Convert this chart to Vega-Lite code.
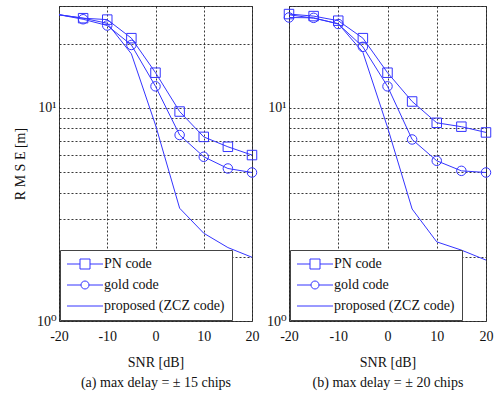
{
  "$schema": "https://vega.github.io/schema/vega-lite/v6.json",
  "background": "white",
  "padding": {"left": 12, "top": 5, "right": 3, "bottom": 5},
  "bounds": "flush",
  "config": {
    "font": "Liberation Serif, DejaVu Serif, serif",
    "view": {"stroke": "#444444", "strokeWidth": 1},
    "axis": {
      "labelFont": "Liberation Serif, DejaVu Serif, serif",
      "labelFontSize": 14,
      "labelColor": "#111111",
      "labelFlush": false,
      "titleFont": "Liberation Serif, DejaVu Serif, serif",
      "titleFontSize": 14,
      "titleFontWeight": "normal",
      "titleColor": "#111111",
      "ticks": false,
      "domain": false,
      "grid": true,
      "gridColor": "#222222",
      "gridDash": [2, 2],
      "gridWidth": 1,
      "gridOpacity": 0.9,
      "labelPadding": 3
    },
    "axisX": {"labelPadding": 8},
    "legend": {
      "orient": "bottom-left",
      "offset": 1,
      "fillColor": "white",
      "strokeColor": "#444444",
      "padding": 7,
      "labelFont": "Liberation Serif, DejaVu Serif, serif",
      "labelFontSize": 14,
      "labelColor": "#111111",
      "symbolSize": 100,
      "rowPadding": 7
    }
  },
  "datasets": {
    "d": [
      {"panel": "a", "series": "PN code", "snr": -20, "rmse": 27.3},
      {"panel": "a", "series": "PN code", "snr": -15, "rmse": 26.3},
      {"panel": "a", "series": "PN code", "snr": -10, "rmse": 25.9},
      {"panel": "a", "series": "PN code", "snr": -5, "rmse": 21.2},
      {"panel": "a", "series": "PN code", "snr": 0, "rmse": 14.6},
      {"panel": "a", "series": "PN code", "snr": 5, "rmse": 9.6},
      {"panel": "a", "series": "PN code", "snr": 10, "rmse": 7.3},
      {"panel": "a", "series": "PN code", "snr": 15, "rmse": 6.56},
      {"panel": "a", "series": "PN code", "snr": 20, "rmse": 6.0},
      {"panel": "a", "series": "gold code", "snr": -20, "rmse": 27.3},
      {"panel": "a", "series": "gold code", "snr": -15, "rmse": 26.0},
      {"panel": "a", "series": "gold code", "snr": -10, "rmse": 24.3},
      {"panel": "a", "series": "gold code", "snr": -5, "rmse": 19.7},
      {"panel": "a", "series": "gold code", "snr": 0, "rmse": 12.6},
      {"panel": "a", "series": "gold code", "snr": 5, "rmse": 7.45},
      {"panel": "a", "series": "gold code", "snr": 10, "rmse": 5.89},
      {"panel": "a", "series": "gold code", "snr": 15, "rmse": 5.19},
      {"panel": "a", "series": "gold code", "snr": 20, "rmse": 4.97},
      {"panel": "a", "series": "proposed (ZCZ code)", "snr": -20, "rmse": 27.3},
      {"panel": "a", "series": "proposed (ZCZ code)", "snr": -15, "rmse": 26.3},
      {"panel": "a", "series": "proposed (ZCZ code)", "snr": -10, "rmse": 24.9},
      {"panel": "a", "series": "proposed (ZCZ code)", "snr": -5, "rmse": 17.9},
      {"panel": "a", "series": "proposed (ZCZ code)", "snr": 0, "rmse": 8.3},
      {"panel": "a", "series": "proposed (ZCZ code)", "snr": 5, "rmse": 3.38},
      {"panel": "a", "series": "proposed (ZCZ code)", "snr": 10, "rmse": 2.58},
      {"panel": "a", "series": "proposed (ZCZ code)", "snr": 15, "rmse": 2.21},
      {"panel": "a", "series": "proposed (ZCZ code)", "snr": 20, "rmse": 1.99},
      {"panel": "b", "series": "PN code", "snr": -20, "rmse": 27.5},
      {"panel": "b", "series": "PN code", "snr": -15, "rmse": 26.9},
      {"panel": "b", "series": "PN code", "snr": -10, "rmse": 25.6},
      {"panel": "b", "series": "PN code", "snr": -5, "rmse": 21.2},
      {"panel": "b", "series": "PN code", "snr": 0, "rmse": 14.6},
      {"panel": "b", "series": "PN code", "snr": 5, "rmse": 10.7},
      {"panel": "b", "series": "PN code", "snr": 10, "rmse": 8.5},
      {"panel": "b", "series": "PN code", "snr": 15, "rmse": 8.15},
      {"panel": "b", "series": "PN code", "snr": 20, "rmse": 7.66},
      {"panel": "b", "series": "gold code", "snr": -20, "rmse": 26.5},
      {"panel": "b", "series": "gold code", "snr": -15, "rmse": 26.4},
      {"panel": "b", "series": "gold code", "snr": -10, "rmse": 24.7},
      {"panel": "b", "series": "gold code", "snr": -5, "rmse": 19.3},
      {"panel": "b", "series": "gold code", "snr": 0, "rmse": 12.6},
      {"panel": "b", "series": "gold code", "snr": 5, "rmse": 7.1},
      {"panel": "b", "series": "gold code", "snr": 10, "rmse": 5.64},
      {"panel": "b", "series": "gold code", "snr": 15, "rmse": 5.06},
      {"panel": "b", "series": "gold code", "snr": 20, "rmse": 4.97},
      {"panel": "b", "series": "proposed (ZCZ code)", "snr": -20, "rmse": 27.3},
      {"panel": "b", "series": "proposed (ZCZ code)", "snr": -15, "rmse": 26.3},
      {"panel": "b", "series": "proposed (ZCZ code)", "snr": -10, "rmse": 24.8},
      {"panel": "b", "series": "proposed (ZCZ code)", "snr": -5, "rmse": 18.2},
      {"panel": "b", "series": "proposed (ZCZ code)", "snr": 0, "rmse": 8.1},
      {"panel": "b", "series": "proposed (ZCZ code)", "snr": 5, "rmse": 3.35},
      {"panel": "b", "series": "proposed (ZCZ code)", "snr": 10, "rmse": 2.35},
      {"panel": "b", "series": "proposed (ZCZ code)", "snr": 15, "rmse": 2.15},
      {"panel": "b", "series": "proposed (ZCZ code)", "snr": 20, "rmse": 1.93}
    ]
  },
  "spacing": 37,
  "resolve": {"legend": {"shape": "independent"}},
  "hconcat": [
    {
      "width": 193,
      "height": 315,
      "data": {"name": "d"},
      "transform": [{"filter": "datum.panel == 'a'"}],
      "encoding": {
        "x": {"field": "snr", "type": "quantitative", "scale": {"domain": [-20, 20], "nice": false},
          "axis": {"values": [-20, -10, 0, 10, 20], "labelExpr": "toString(datum.value)", "title": ["SNR [dB]", "(a) max delay = ± 15 chips"], "titlePadding": 12, "titleLineHeight": 20}},
        "y": {"field": "rmse", "type": "quantitative", "scale": {"type": "log", "domain": [1, 30], "nice": false},
          "axis": {"values": [1, 2, 3, 4, 5, 6, 7, 8, 9, 10, 20, 30], "labelExpr": "datum.value == 1 ? '10⁰' : datum.value == 10 ? '10¹' : ''", "title": "R M S E  [m]", "titlePadding": 9}}
      },
      "resolve": {"scale": {"shape": "independent"}},
      "layer": [
        {"mark": {"type": "line", "color": "#3535ff", "strokeWidth": 1}, "encoding": {"detail": {"field": "series"}}},
        {
          "transform": [{"filter": "datum.series != 'proposed (ZCZ code)' && datum.snr > -20"}],
          "mark": {"type": "point", "filled": false, "color": "#3535ff", "strokeWidth": 1, "size": 90, "opacity": 1},
          "encoding": {"shape": {"field": "series", "type": "nominal",
            "scale": {"domain": ["PN code", "gold code"], "range": ["square", "circle"]},
            "legend": null}}
        },
        {
          "transform": [{"filter": "false"}],
          "mark": {"type": "point", "filled": false, "color": "#3535ff", "strokeWidth": 1, "size": 100, "opacity": 1},
          "encoding": {"shape": {"field": "series", "type": "nominal",
            "scale": {"domain": ["PN code", "gold code", "proposed (ZCZ code)"],
              "range": ["M-3.6,0L-1,0M1,0L3.6,0M-1,-1L1,-1L1,1L-1,1Z", "M-3.6,0L-0.8,0M0.8,0L3.6,0M-0.8,0A0.8,0.8,0,1,0,0.8,0A0.8,0.8,0,1,0,-0.8,0Z", "M-3.6,0L3.6,0"]},
            "legend": {"title": null, "symbolOffset": 11, "labelOffset": 12, "symbolStrokeColor": "#3535ff", "symbolFillColor": "transparent", "symbolStrokeWidth": 1, "symbolOpacity": 1}}}
        }
      ]
    },
    {
      "width": 197,
      "height": 315,
      "data": {"name": "d"},
      "transform": [{"filter": "datum.panel == 'b'"}],
      "encoding": {
        "x": {"field": "snr", "type": "quantitative", "scale": {"domain": [-20, 20], "nice": false},
          "axis": {"values": [-20, -10, 0, 10, 20], "labelExpr": "toString(datum.value)", "title": ["SNR [dB]", "(b) max delay = ± 20 chips"], "titlePadding": 12, "titleLineHeight": 20}},
        "y": {"field": "rmse", "type": "quantitative", "scale": {"type": "log", "domain": [1, 30], "nice": false},
          "axis": {"values": [1, 2, 3, 4, 5, 6, 7, 8, 9, 10, 20, 30], "labelExpr": "datum.value == 1 ? '10⁰' : datum.value == 10 ? '10¹' : ''", "title": null}}
      },
      "resolve": {"scale": {"shape": "independent"}},
      "layer": [
        {"mark": {"type": "line", "color": "#3535ff", "strokeWidth": 1}, "encoding": {"detail": {"field": "series"}}},
        {
          "transform": [{"filter": "datum.series != 'proposed (ZCZ code)'"}],
          "mark": {"type": "point", "filled": false, "color": "#3535ff", "strokeWidth": 1, "size": 90, "opacity": 1},
          "encoding": {"shape": {"field": "series", "type": "nominal",
            "scale": {"domain": ["PN code", "gold code"], "range": ["square", "circle"]},
            "legend": null}}
        },
        {
          "transform": [{"filter": "false"}],
          "mark": {"type": "point", "filled": false, "color": "#3535ff", "strokeWidth": 1, "size": 100, "opacity": 1},
          "encoding": {"shape": {"field": "series", "type": "nominal",
            "scale": {"domain": ["PN code", "gold code", "proposed (ZCZ code)"],
              "range": ["M-3.6,0L-1,0M1,0L3.6,0M-1,-1L1,-1L1,1L-1,1Z", "M-3.6,0L-0.8,0M0.8,0L3.6,0M-0.8,0A0.8,0.8,0,1,0,0.8,0A0.8,0.8,0,1,0,-0.8,0Z", "M-3.6,0L3.6,0"]},
            "legend": {"title": null, "symbolOffset": 11, "labelOffset": 12, "symbolStrokeColor": "#3535ff", "symbolFillColor": "transparent", "symbolStrokeWidth": 1, "symbolOpacity": 1}}}
        }
      ]
    }
  ]
}
